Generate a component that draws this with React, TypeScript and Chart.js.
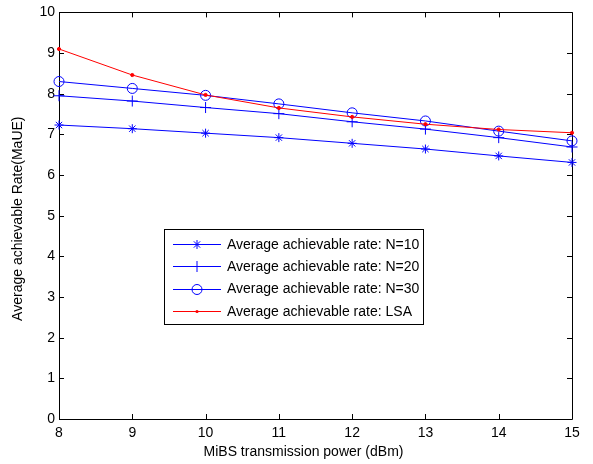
import React, { useEffect, useRef } from "react";
import { Chart, registerables } from "chart.js";

Chart.register(...registerables);

// Transmission power of the MiBS (dBm)
const powerDbm = [8, 9, 10, 11, 12, 13, 14, 15];

// Average achievable rate per scheme
const rateN10 = [7.23, 7.14, 7.03, 6.92, 6.78, 6.64, 6.47, 6.31];
const rateN20 = [7.95, 7.82, 7.66, 7.51, 7.31, 7.13, 6.92, 6.69];
const rateN30 = [8.3, 8.13, 7.96, 7.75, 7.53, 7.33, 7.08, 6.84];
const rateLSA = [9.1, 8.46, 7.97, 7.65, 7.43, 7.25, 7.12, 7.04];

const seriesLabels = [
  "Average achievable rate: N=10",
  "Average achievable rate: N=20",
  "Average achievable rate: N=30",
  "Average achievable rate: LSA",
];

const xTicks = [8, 9, 10, 11, 12, 13, 14, 15];
const yTicks = [0, 1, 2, 3, 4, 5, 6, 7, 8, 9, 10];

const FONT = '"Liberation Sans", Arial, Helvetica, sans-serif';
const BLUE = "#0000ff";
const RED = "#ff0000";

type Marker = "star" | "cross" | "circle" | "dot";
const markers: Marker[] = ["star", "cross", "circle", "dot"];
const colors = [BLUE, BLUE, BLUE, RED];

function drawMarker(ctx: CanvasRenderingContext2D, kind: Marker, x: number, y: number, color: string) {
  ctx.save();
  ctx.strokeStyle = color;
  ctx.fillStyle = color;
  ctx.lineWidth = 1;
  ctx.beginPath();
  if (kind === "star") {
    const r = 4.5;
    const d = r * Math.SQRT1_2;
    ctx.moveTo(x, y - r); ctx.lineTo(x, y + r);
    ctx.moveTo(x - r, y); ctx.lineTo(x + r, y);
    ctx.moveTo(x - d, y - d); ctx.lineTo(x + d, y + d);
    ctx.moveTo(x - d, y + d); ctx.lineTo(x + d, y - d);
    ctx.stroke();
  } else if (kind === "cross") {
    const r = 5.5;
    ctx.moveTo(x, y - r); ctx.lineTo(x, y + r);
    ctx.moveTo(x - r, y); ctx.lineTo(x + r, y);
    ctx.stroke();
  } else if (kind === "circle") {
    ctx.arc(x, y, 5, 0, Math.PI * 2);
    ctx.stroke();
  } else {
    ctx.arc(x, y, 1.6, 0, Math.PI * 2);
    ctx.fill();
  }
  ctx.restore();
}

// Box around the axes with inward tick marks on all four sides, plus axis titles
const framePlugin = {
  id: "frame",
  beforeDatasetsDraw(chart: any) {
    const { ctx, chartArea } = chart;
    const { left, right, top, bottom } = chartArea;
    const xs = chart.scales.x;
    const ys = chart.scales.y;
    const tl = 5;
    ctx.save();
    ctx.strokeStyle = "#000";
    ctx.lineWidth = 1;
    ctx.beginPath();
    ctx.rect(Math.round(left) + 0.5, Math.round(top) + 0.5, Math.round(right - left), Math.round(bottom - top));
    for (const v of xTicks) {
      const px = Math.round(xs.getPixelForValue(v)) + 0.5;
      ctx.moveTo(px, bottom); ctx.lineTo(px, bottom - tl);
      ctx.moveTo(px, top); ctx.lineTo(px, top + tl);
    }
    for (const v of yTicks) {
      const py = Math.round(ys.getPixelForValue(v)) + 0.5;
      ctx.moveTo(left, py); ctx.lineTo(left + tl, py);
      ctx.moveTo(right, py); ctx.lineTo(right - tl, py);
    }
    ctx.stroke();

    ctx.fillStyle = "#000";
    ctx.font = `14px ${FONT}`;
    ctx.textAlign = "center";
    ctx.textBaseline = "middle";
    ctx.fillText("MiBS transmission power (dBm)", (left + right) / 2 - 12, 452);
    ctx.translate(18, (top + bottom) / 2 + 3);
    ctx.rotate(-Math.PI / 2);
    ctx.fillText("Average achievable Rate(MaUE)", 0, 0);
    ctx.restore();
  },
};

// Boxed legend placed inside the plot
const legendPlugin = {
  id: "boxLegend",
  afterDatasetsDraw(chart: any) {
    const { ctx } = chart;
    const boxLeft = 164.5;
    const boxTop = 229.5;
    const rowGap = 22.3;
    const firstRow = 244;
    const lineX0 = 173;
    const lineX1 = 221;
    const textX = 227;
    ctx.save();
    ctx.font = `14px ${FONT}`;
    let maxW = 0;
    for (const s of seriesLabels) maxW = Math.max(maxW, ctx.measureText(s).width);
    const boxRight = Math.round(textX + maxW + 4) + 0.5;
    const boxBottom = 324.5;
    ctx.fillStyle = "#fff";
    ctx.fillRect(boxLeft, boxTop, boxRight - boxLeft, boxBottom - boxTop);
    ctx.strokeStyle = "#000";
    ctx.lineWidth = 1;
    ctx.strokeRect(boxLeft, boxTop, boxRight - boxLeft, boxBottom - boxTop);

    seriesLabels.forEach((label, i) => {
      const y = firstRow + i * rowGap;
      ctx.strokeStyle = colors[i];
      ctx.lineWidth = 1;
      ctx.beginPath();
      ctx.moveTo(lineX0, Math.round(y) + 0.5);
      ctx.lineTo(lineX1, Math.round(y) + 0.5);
      ctx.stroke();
      drawMarker(ctx, markers[i], (lineX0 + lineX1) / 2, Math.round(y) + 0.5, colors[i]);
      ctx.fillStyle = "#000";
      ctx.textAlign = "left";
      ctx.textBaseline = "middle";
      ctx.fillText(label, textX, y + 1);
    });
    ctx.restore();
  },
};

const pointStyleFor: Record<Marker, string> = {
  star: "star",
  cross: "cross",
  circle: "circle",
  dot: "circle",
};

export default function App() {
  const canvasRef = useRef<HTMLCanvasElement | null>(null);

  useEffect(() => {
    const canvas = canvasRef.current;
    if (!canvas) return;
    const seriesValues = [rateN10, rateN20, rateN30, rateLSA];
    const radii = [4.5, 5.5, 5, 1.6];

    const chart = new Chart(canvas, {
      type: "line",
      data: {
        datasets: seriesValues.map((vals, i) => ({
          label: seriesLabels[i],
          data: powerDbm.map((x, j) => ({ x, y: vals[j] })),
          borderColor: colors[i],
          borderWidth: 1,
          pointStyle: pointStyleFor[markers[i]] as any,
          pointRadius: radii[i],
          pointBorderWidth: 1,
          pointBorderColor: colors[i],
          pointBackgroundColor: markers[i] === "dot" ? colors[i] : "rgba(0,0,0,0)",
          tension: 0,
          clip: false as any,
          order: 3 - i,
        })),
      },
      options: {
        responsive: false,
        maintainAspectRatio: false,
        animation: false,
        layout: { padding: { top: 11, right: 21, left: 0, bottom: 0 } },
        plugins: {
          legend: { display: false },
          tooltip: { enabled: false },
        },
        scales: {
          x: {
            type: "linear",
            min: 8,
            max: 15,
            grid: { display: false, drawTicks: false },
            border: { display: false },
            afterBuildTicks: (scale: any) => {
              scale.ticks = xTicks.map((v) => ({ value: v }));
            },
            ticks: {
              color: "#000",
              font: { family: FONT, size: 14 },
              padding: 6,
              maxRotation: 0,
              autoSkip: false,
            },
            afterFit: (scale: any) => {
              scale.height = 45;
            },
          },
          y: {
            type: "linear",
            min: 0,
            max: 10,
            grid: { display: false, drawTicks: false },
            border: { display: false },
            afterBuildTicks: (scale: any) => {
              scale.ticks = yTicks.map((v) => ({ value: v }));
            },
            ticks: {
              color: "#000",
              font: { family: FONT, size: 14 },
              padding: 4,
              autoSkip: false,
            },
            afterFit: (scale: any) => {
              scale.width = 59;
            },
          },
        },
      },
      plugins: [framePlugin, legendPlugin],
    });

    return () => chart.destroy();
  }, []);

  return (
    <div style={{ position: "fixed", left: 0, top: 0, width: 593, height: 464, background: "#fff" }}>
      <canvas ref={canvasRef} width={593} height={464} style={{ display: "block" }} />
    </div>
  );
}
